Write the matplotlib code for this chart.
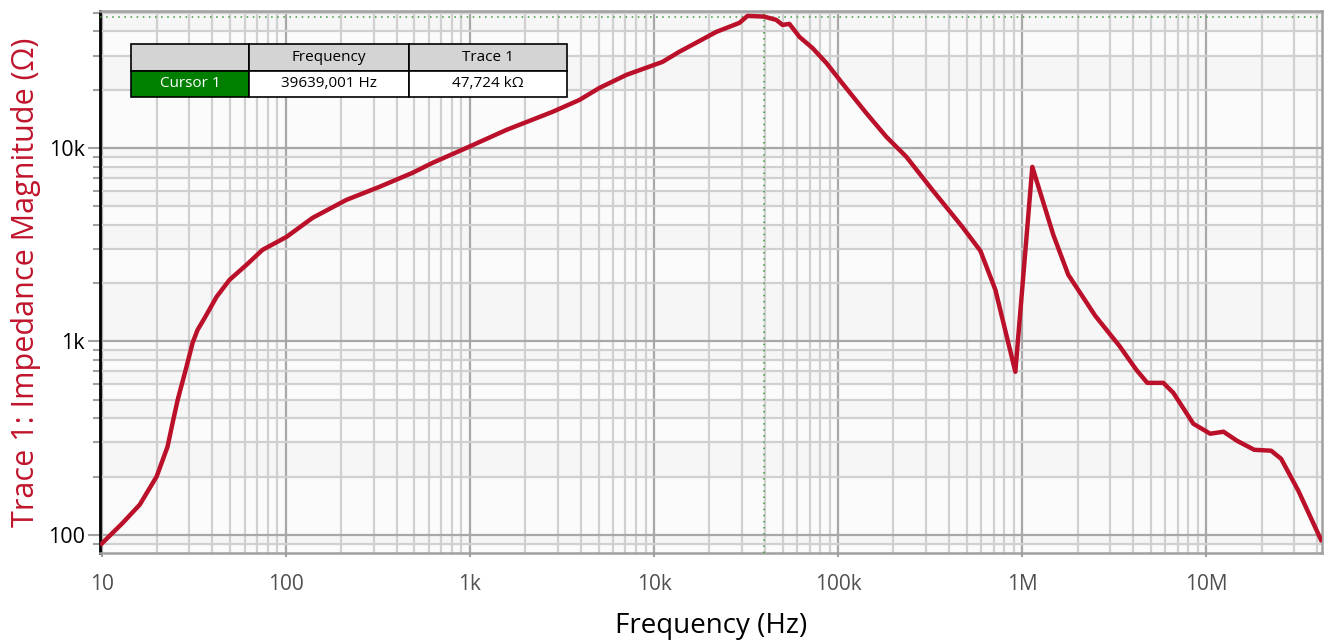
import numpy as np
import matplotlib
matplotlib.use("Agg")
import matplotlib.pyplot as plt
from matplotlib.ticker import FixedLocator, NullFormatter, LogLocator

plt.rcParams['font.family'] = ['Open Sans', 'DejaVu Sans']

# impedance sweep
freq_hz = [10, 13.0, 16.1, 19.9, 22.8, 24.3, 25.9, 28.9, 31.2, 33.2, 36.3, 42.1, 49.5,
           61.2, 74.8, 101, 140, 214, 323, 488, 627, 959, 1581, 2810, 3940,
           5060, 7090, 11.1e3, 13.7e3, 17.7e3, 21.8e3, 29.1e3, 32.2e3, 39.6e3,
           46.2e3, 49.9e3, 54.4e3, 61.7e3, 72.5e3, 86.3e3, 105e3, 142e3, 183e3,
           235e3, 325e3, 473e3, 593e3, 715e3, 918e3, 1.135e6, 1.476e6, 1.78e6,
           2.495e6, 3.37e6, 4.17e6, 4.78e6, 5.84e6, 6.62e6, 8.5e6, 10.5e6, 12.4e6,
           14.7e6, 18.2e6, 22.5e6, 25.5e6, 31.6e6, 42e6]
impedance_ohm = [89.9, 115, 143, 200, 285, 379, 499, 738, 982, 1146, 1322, 1698, 2078,
                 2485, 2970, 3467, 4350, 5390, 6290, 7430, 8365, 10000, 12390,
                 15350, 17700, 20420, 23850, 27800, 31350, 35730, 39770, 44260, 48100,
                 47724, 45870, 43220, 43750, 37460, 32870, 27500, 21680, 15170, 11400,
                 8986, 6067, 3905, 2936, 1847, 696, 7975, 3550, 2207, 1354, 948, 712,
                 610, 610, 542, 375, 333, 341, 306, 275, 272, 247, 169, 94]

cursor_freq = 39639.001
cursor_z = 47724

xticks = [10, 100, 1e3, 1e4, 1e5, 1e6, 1e7]
xtick_labels = ['10', '100', '1k', '10k', '100k', '1M', '10M']
yticks = [100, 1e3, 1e4]
ytick_labels = ['100', '1k', '10k']

table_header = ['', 'Frequency', 'Trace 1']
table_row = ['Cursor 1', '39639,001 Hz', '47,724 k\u03a9']

fig = plt.figure(figsize=(13.28, 6.42), dpi=100)
ax = fig.add_axes([100 / 1328, 1 - 553 / 642, 1222 / 1328, 542 / 642])

ax.set_xscale('log')
ax.set_yscale('log')
ax.set_xlim(9.8, 42.5e6)
ax.set_ylim(80.5, 51000)

# faint banding between horizontal grid lines
ygrid = sorted([m * 10.0 ** e for e in range(1, 5) for m in range(1, 10)])
ygrid = [v for v in ygrid if 80.5 <= v <= 51000]
edges = [80.5] + ygrid + [51000]
for i in range(len(edges) - 1):
    ax.axhspan(edges[i], edges[i + 1], color='#f6f6f6' if i % 2 else '#fbfbfb',
               lw=0, zorder=0)

ax.xaxis.set_major_locator(FixedLocator(xticks))
ax.set_xticklabels(xtick_labels)
ax.xaxis.set_minor_locator(LogLocator(base=10, subs=np.arange(2, 10)))
ax.xaxis.set_minor_formatter(NullFormatter())
ax.yaxis.set_major_locator(FixedLocator(yticks))
ax.set_yticklabels(ytick_labels)
ax.yaxis.set_minor_locator(LogLocator(base=10, subs=np.arange(2, 10)))
ax.yaxis.set_minor_formatter(NullFormatter())

ax.grid(which='major', color='#a8a8a8', lw=1.6, zorder=1)
ax.grid(which='minor', color='#d0d0d0', lw=1.6, zorder=1)
ax.set_axisbelow(True)

ax.tick_params(axis='y', which='major', length=9, width=1.5, color='#a0a0a0',
               labelsize=15.5, labelcolor='black', pad=2)
ax.tick_params(axis='y', which='minor', length=5, width=1.5, color='#a0a0a0')
ax.tick_params(axis='x', which='major', length=3, width=1.5, color='#a0a0a0',
               labelsize=15, labelcolor='#505050', pad=12)
ax.tick_params(axis='x', which='minor', length=0)

for s in ['top', 'right', 'bottom']:
    ax.spines[s].set_color('#a0a0a0')
    ax.spines[s].set_linewidth(1.8)
ax.spines['left'].set_color('black')
ax.spines['left'].set_linewidth(2)

ax.plot(freq_hz, impedance_ohm, color='#bb1029', lw=3.2, zorder=4,
        solid_joinstyle='round')

ax.axvline(cursor_freq, color='#3a9a3a', lw=1.1, ls=(0, (1, 3)), zorder=3)
ax.axhline(cursor_z, color='#3a9a3a', lw=1.1, ls=(0, (1, 3)), zorder=3)

ax.set_xlabel('Frequency (Hz)', fontsize=20, color='black', labelpad=12)
ax.set_ylabel('Trace 1: Impedance Magnitude (\u03a9)', fontsize=22, color='#c0142c',
              labelpad=5)

tbl = ax.table(cellText=[table_header, table_row],
               bbox=[31 / 1222, (553 - 97) / 542, 436 / 1222, 53 / 542],
               colWidths=[118, 160, 158], cellLoc='center', zorder=6)
tbl.auto_set_font_size(False)
for (r, c), cell in tbl.get_celld().items():
    cell.set_edgecolor('black')
    cell.set_linewidth(1.2)
    cell.get_text().set_fontsize(11)
    if r == 0:
        cell.set_facecolor('#d4d4d4')
    elif c == 0:
        cell.set_facecolor('#007f00')
        cell.get_text().set_color('white')
    else:
        cell.set_facecolor('white')

fig.savefig('out.png', dpi=100)
